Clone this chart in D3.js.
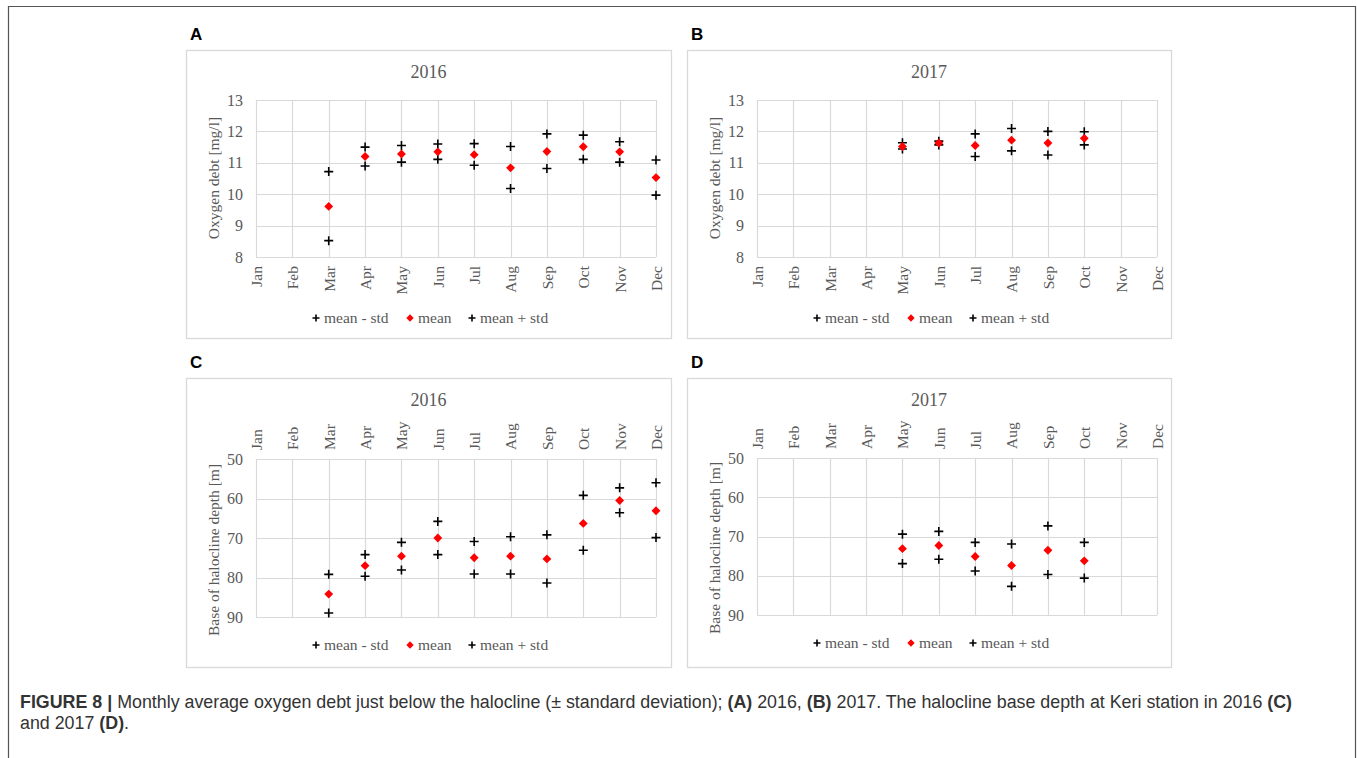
<!DOCTYPE html>
<html><head><meta charset="utf-8">
<script src="https://cdn.jsdelivr.net/npm/d3@7"></script>
<style>body{margin:0;background:#fff}svg{display:block}</style>
</head><body>
<svg id="c" width="1357" height="758"></svg>
<script>
const months = ["Jan","Feb","Mar","Apr","May","Jun","Jul","Aug","Sep","Oct","Nov","Dec"];
const legendLabels = ["mean - std","mean","mean + std"];

// Panel A: oxygen debt 2016 [mg/l]
const oxy2016Minus = [null,null,8.52,10.90,11.02,11.11,10.92,10.18,10.82,11.11,11.02,9.97];
const oxy2016Mean  = [null,null,9.61,11.20,11.28,11.35,11.26,10.84,11.36,11.51,11.35,10.53];
const oxy2016Plus  = [null,null,10.72,11.50,11.55,11.60,11.61,11.52,11.92,11.88,11.67,11.09];
// Panel B: oxygen debt 2017 [mg/l]
const oxy2017Minus = [null,null,null,null,11.44,11.57,11.20,11.38,11.25,11.57,null,null];
const oxy2017Mean  = [null,null,null,null,11.52,11.63,11.55,11.72,11.63,11.78,null,null];
const oxy2017Plus  = [null,null,null,null,11.64,11.69,11.92,12.09,12.00,11.99,null,null];
// Panel C: halocline base depth 2016 [m]
const hal2016Minus = [null,null,89.0,79.7,78.1,74.2,79.1,79.1,81.4,73.1,63.6,69.9];
const hal2016Mean  = [null,null,84.2,77.0,74.6,70.0,75.0,74.6,75.3,66.3,60.5,63.1];
const hal2016Plus  = [null,null,79.2,74.2,71.1,65.8,70.9,69.7,69.2,59.2,57.3,56.0];
// Panel D: halocline base depth 2017 [m]
const hal2017Minus = [null,null,null,null,76.9,75.8,78.8,82.7,79.7,80.6,null,null];
const hal2017Mean  = [null,null,null,null,73.1,72.3,75.1,77.4,73.5,76.2,null,null];
const hal2017Plus  = [null,null,null,null,69.4,68.7,71.5,71.9,67.3,71.5,null,null];

const oxyTicks = [8,9,10,11,12,13];
const halTicks = [50,60,70,80,90];

const svg = d3.select("#c");
const GRAY = "#595959", GRID = "#d9d9d9";
const SERIF = "'Liberation Serif','Times New Roman',serif";
const SANS = "'Liberation Sans',Arial,Helvetica,sans-serif";

// outer figure frame (open at bottom)
svg.append("path").attr("d","M8.5,758V6.5H1355.5V758").attr("fill","none").attr("stroke","#555").attr("stroke-width",1.2);

const plusPath = s => `M${-s},0H${s}M0,${-s}V${s}`;

function panel(o){
  const g = svg.append("g");
  g.append("rect").attr("x",o.fx+0.5).attr("y",o.fy+0.5).attr("width",o.fw).attr("height",o.fh)
    .attr("fill","#fff").attr("stroke",GRID).attr("stroke-width",1.3);
  g.append("text").attr("x",o.fx+4).attr("y",o.fy-10).text(o.letter)
    .attr("font-family",SANS).attr("font-weight","bold").attr("font-size",17).attr("fill","#000");
  const x = d3.scalePoint().domain(months).range([o.x0,o.x1]);
  const y = d3.scaleLinear().domain(o.domain).range(o.inverted?[o.y0,o.y1]:[o.y1,o.y0]);
  // gridlines
  g.append("g").selectAll("line").data(o.ticks).join("line")
    .attr("x1",o.x0).attr("x2",o.x1).attr("y1",d=>Math.round(y(d))+0.5).attr("y2",d=>Math.round(y(d))+0.5)
    .attr("stroke",GRID).attr("stroke-width",1.2);
  g.append("g").selectAll("line").data(months).join("line")
    .attr("y1",o.y0).attr("y2",o.y1).attr("x1",d=>Math.round(x(d))+0.5).attr("x2",d=>Math.round(x(d))+0.5)
    .attr("stroke",GRID).attr("stroke-width",1.2);
  // y axis labels
  const ya = d3.axisLeft(y).tickValues(o.ticks).tickFormat(d3.format("d")).tickSize(0).tickPadding(13);
  const yg = g.append("g").attr("transform",`translate(${o.x0},0)`).call(ya);
  yg.select(".domain").remove();
  yg.selectAll("text").attr("font-family",SERIF).attr("font-size",16).attr("fill",GRAY);
  // x axis labels (rotated)
  const xa = (o.inverted? d3.axisTop(x) : d3.axisBottom(x)).tickSize(0).tickPadding(0);
  const xg = g.append("g").attr("transform",`translate(0,${o.inverted?o.y0:o.y1})`).call(xa);
  xg.select(".domain").remove();
  xg.selectAll("text").attr("font-family",SERIF).attr("font-size",15.5).attr("fill",GRAY)
    .attr("dy","0.35em").attr("transform",`translate(0,${o.inverted?-9:9}) rotate(-90)`)
    .attr("text-anchor",o.inverted?"start":"end").attr("x",0).attr("y",0);
  // titles
  g.append("text").attr("x",(o.fx+o.fx+o.fw)/2).attr("y",o.fy+28).attr("text-anchor","middle")
    .text(o.title).attr("font-family",SERIF).attr("font-size",18).attr("fill",GRAY);
  g.append("text").attr("transform",`translate(${o.fx+28},${o.ytc}) rotate(-90)`).attr("text-anchor","middle")
    .attr("dy","0.35em")
    .text(o.ytitle).attr("font-family",SERIF).attr("font-size",15.5).attr("fill",GRAY);
  // marks
  const mk = (arr)=>months.map((m,i)=>({m,v:arr[i]})).filter(d=>d.v!=null);
  [o.minus,o.plus].forEach(arr=>{
    g.append("g").selectAll("path").data(mk(arr)).join("path")
      .attr("transform",d=>`translate(${x(d.m)},${y(d.v)})`).attr("d",plusPath(4.5))
      .attr("stroke","#000").attr("stroke-width",1.6).attr("fill","none");
  });
  g.append("g").selectAll("path").data(mk(o.mean)).join("path")
    .attr("transform",d=>`translate(${x(d.m)},${y(d.v)})`).attr("d",d3.symbol(d3.symbolDiamond2,50)())
    .attr("fill","#ff0000");
  // legend
  const lg = g.append("g").attr("transform",`translate(${o.fx+130},${o.ly})`);
  const items = [{t:legendLabels[0],k:"plus",dx:0},{t:legendLabels[1],k:"dia",dx:94},{t:legendLabels[2],k:"plus",dx:156}];
  items.forEach(it=>{
    const ig = lg.append("g").attr("transform",`translate(${it.dx},0)`);
    if(it.k==="plus") ig.append("path").attr("d",plusPath(3.5)).attr("stroke","#000").attr("stroke-width",1.6);
    else ig.append("path").attr("d",d3.symbol(d3.symbolDiamond2,34)()).attr("fill","#ff0000");
    ig.append("text").attr("x",8).attr("dy","0.35em").text(it.t)
      .attr("font-family",SERIF).attr("font-size",15.5).attr("fill",GRAY);
  });
}

panel({letter:"A",fx:186,fy:50,fw:485,fh:288,x0:256,x1:656,y0:100,y1:257,domain:[8,13],ticks:oxyTicks,
  title:"2016",ytitle:"Oxygen debt [mg/l]",ytc:178,ly:318,minus:oxy2016Minus,mean:oxy2016Mean,plus:oxy2016Plus});
panel({letter:"B",fx:687,fy:50,fw:484,fh:288,x0:757,x1:1157,y0:100,y1:257,domain:[8,13],ticks:oxyTicks,
  title:"2017",ytitle:"Oxygen debt [mg/l]",ytc:178,ly:318,minus:oxy2017Minus,mean:oxy2017Mean,plus:oxy2017Plus});
panel({letter:"C",fx:186,fy:378,fw:485,fh:289,x0:256,x1:656,y0:459,y1:617,domain:[50,90],ticks:halTicks,inverted:true,
  title:"2016",ytitle:"Base of halocline depth [m]",ytc:550,ly:645,minus:hal2016Minus,mean:hal2016Mean,plus:hal2016Plus});
panel({letter:"D",fx:687,fy:378,fw:484,fh:289,x0:757,x1:1157,y0:458,y1:615,domain:[50,90],ticks:halTicks,inverted:true,
  title:"2017",ytitle:"Base of halocline depth [m]",ytc:548,ly:643,minus:hal2017Minus,mean:hal2017Mean,plus:hal2017Plus});

// caption
const cap = svg.append("g").attr("font-family",SANS).attr("font-size",16).attr("fill","#333");
const l1 = cap.append("text").attr("x",20).attr("y",708);
l1.append("tspan").attr("font-weight","bold").text("FIGURE 8 | ");
l1.append("tspan").text("Monthly average oxygen debt just below the halocline (± standard deviation); ");
l1.append("tspan").attr("font-weight","bold").text("(A)");
l1.append("tspan").text(" 2016, ");
l1.append("tspan").attr("font-weight","bold").text("(B)");
l1.append("tspan").text(" 2017. The halocline base depth at Keri station in 2016 ");
l1.append("tspan").attr("font-weight","bold").text("(C)");
const l2 = cap.append("text").attr("x",20).attr("y",729);
l2.append("tspan").text("and 2017 ");
l2.append("tspan").attr("font-weight","bold").text("(D)");
l2.append("tspan").text(".");
// fit caption line width to the reference text block
const w1 = l1.node().getComputedTextLength();
cap.attr("font-size", 16 * 1273 / w1);
</script>
</body></html>
